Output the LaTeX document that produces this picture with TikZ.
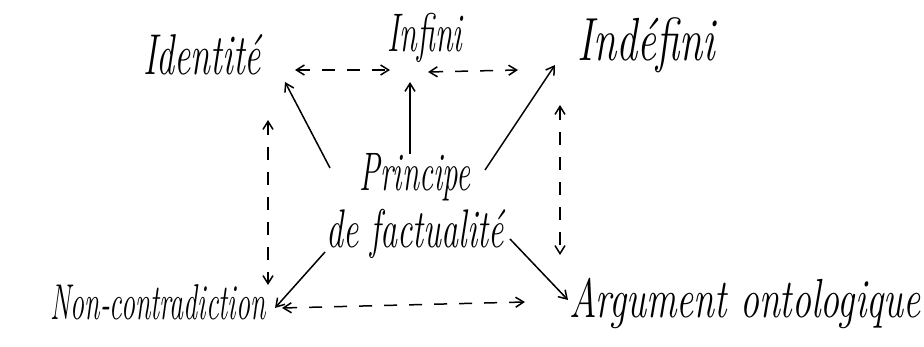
\documentclass[tikz,border=0pt]{standalone}
\usepackage{fontspec}
\usetikzlibrary{arrows.meta,calc}
\newcommand{\hw}[3]{\scalebox{1}[#3]{\fontsize{#1}{#1}\selectfont\itshape #2}}
\tikzset{
  lbl/.style={inner sep=0pt},
  conn/.style={line width=1.5pt, -{Straight Barb[length=8pt,width=10pt]}},
  dconn/.style={line width=1.5pt, {Straight Barb[length=8pt,width=10pt]}-{Straight Barb[length=8pt,width=10pt]}, dash pattern=on 13pt off 12pt},
}
\begin{document}
\begin{tikzpicture}[x=1pt,y=-1pt]
\fill[white] (0,0) rectangle (924,347);
\useasboundingbox (0,0) rectangle (924,347);
\node[lbl] (id) at (202,55) {\hw{36}{Identité}{1.6}};
\node[lbl] (inf) at (425,38) {\hw{32}{Infini}{1.7}};
\node[lbl] (indef) at (646,45) {\hw{42}{Indéfini}{1.45}};
\node[lbl, align=center] (pr) at (415,206) {\hw{31}{Principe}{1.75}\\[8pt]\hw{34}{de factualité}{1.6}};
\node[lbl] (nc) at (158,302) {\hw{28}{Non-contradiction}{1.8}};
\node[lbl] (arg) at (745,303) {\hw{38}{Argument ontologique}{1.45}};
\draw[dconn] ($(id)+(93,15)$) -- ($(inf)+(-35,32)$);
\draw[dconn] ($(inf)+(3,34)$) -- ($(indef)+(-128,25)$);
\draw[conn] ($(pr)+(-85,-38)$) -- ($(id)+(83,27)$);
\draw[conn] ($(pr)+(-5,-52)$) -- ($(inf)+(-15,44)$);
\draw[conn] ($(pr)+(70,-36)$) -- ($(indef)+(-91,20)$);
\draw[dconn] ($(id)+(66,65)$) -- ($(nc)+(110,-17)$);
\draw[dconn] ($(indef)+(-86,60)$) -- ($(arg)+(-185,-48)$);
\draw[conn] ($(pr)+(-90,46)$) -- ($(nc)+(117,6)$);
\draw[conn] ($(pr)+(95,33)$) -- ($(arg)+(-177,-3)$);
\draw[dconn] ($(nc)+(124,6)$) -- ($(arg)+(-220,-1)$);
\end{tikzpicture}
\end{document}
